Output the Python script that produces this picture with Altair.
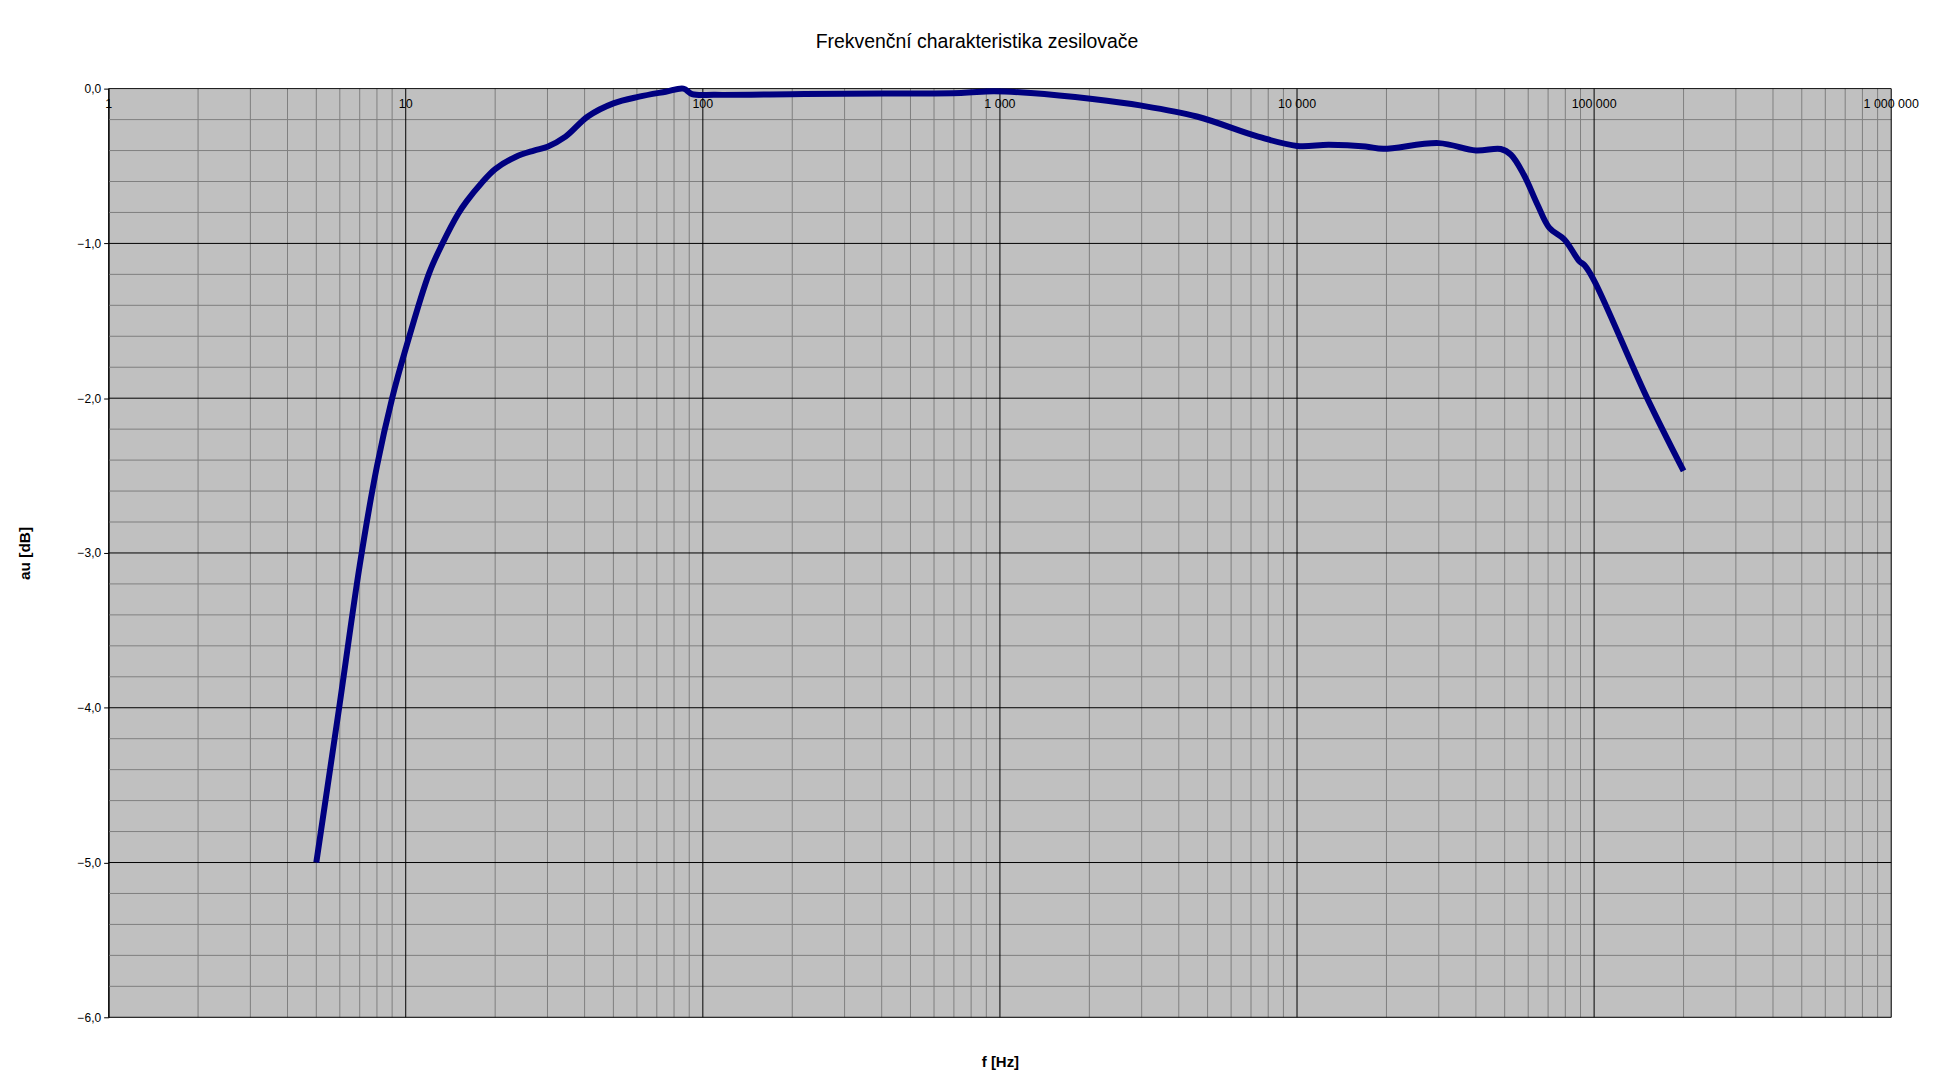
import altair as alt
import pandas as pd

# ---- data ----
freq_hz = [5, 6, 7, 8, 9, 10, 12, 13.3, 15, 16, 18, 20, 23.5, 27, 30, 34.5, 41, 50, 61, 75,
           86, 92, 110, 220, 410, 740, 950, 1270, 2050, 3000, 4600, 7400, 10000, 12800,
           17000, 19500, 30000, 40000, 48500, 52500, 58000, 64500, 70700, 79400, 89200,
           92700, 100000, 150000, 200000]
gain_db = [-5.0, -3.97, -3.08, -2.44, -2.0, -1.68, -1.19, -1.0, -0.81, -0.73, -0.61, -0.52,
           -0.44, -0.40, -0.375, -0.31, -0.18, -0.095, -0.052, -0.02, 0.0, -0.035, -0.04,
           -0.035, -0.032, -0.028, -0.017, -0.028, -0.067, -0.11, -0.18, -0.31, -0.37,
           -0.363, -0.374, -0.389, -0.352, -0.40, -0.39, -0.427, -0.556, -0.75, -0.90,
           -0.975, -1.115, -1.14, -1.24, -1.99, -2.47]

x_tick_values = [1, 10, 100, 1000, 10000, 100000, 1000000]
x_tick_labels = ["1", "10", "100", "1 000", "10 000", "100 000", "1 000 000"]
y_tick_values = [0, -1, -2, -3, -4, -5, -6]
x_minor_values = [m * d for d in [1, 10, 100, 1000, 10000, 100000] for m in range(2, 10)]
y_minor_values = [-(i * 0.2) for i in range(31) if i % 5 != 0]

title_text = "Frekvenční charakteristika zesilovače"
x_title = "f [Hz]"
y_title = "au [dB]"

W, H = 1789, 932
FONT = "Liberation Sans"

curve = pd.DataFrame({"f": freq_hz, "db": gain_db})
xt = pd.DataFrame({"f": x_tick_values, "label": x_tick_labels})
xm = pd.DataFrame({"f": x_minor_values})
ym = pd.DataFrame({"db": y_minor_values})
yt = pd.DataFrame({"db": y_tick_values})

xs = alt.Scale(type="log", domain=[1, 1000000], nice=False)
ys = alt.Scale(domain=[-6, 0], nice=False)

x_axis = alt.Axis(title=x_title, labels=False, ticks=False, domain=False, grid=False,
                  titleFont=FONT, titleFontSize=15, titleFontWeight="bold",
                  titleColor="#000000", titleY=44, titleBaseline="middle")
y_axis = alt.Axis(title=y_title, values=y_tick_values, grid=False,
                  labelExpr="replace(format(datum.value, '.1f'), '.', ',')",
                  labelFont=FONT, labelFontSize=12, labelColor="#000000",
                  labelPadding=3, tickSize=5, tickColor="#000000",
                  domainColor="#000000", domainWidth=1,
                  titleFont=FONT, titleFontSize=15.5, titleFontWeight="bold",
                  titleColor="#000000", titleAngle=270, titleX=-84, titleY=H / 2,
                  titleAlign="center", titleBaseline="middle")


def X(field):
    return alt.X(field, scale=xs, axis=x_axis)


def Y(field):
    return alt.Y(field, scale=ys, axis=y_axis)


minor_x = alt.Chart(xm).mark_rule(color="#808080", strokeWidth=1).encode(x=X("f:Q"))
minor_y = alt.Chart(ym).mark_rule(color="#808080", strokeWidth=1).encode(y=Y("db:Q"))
major_x = alt.Chart(xt).mark_rule(color="#000000", strokeWidth=1).encode(x=X("f:Q"))
major_y = alt.Chart(yt).mark_rule(color="#000000", strokeWidth=1).encode(y=Y("db:Q"))

line = alt.Chart(curve).mark_line(color="#000080", strokeWidth=6, interpolate="catmull-rom",
                                  clip=False).encode(
    x=X("f:Q"),
    y=Y("db:Q"),
    order=alt.Order("f:Q"),
)

labels = alt.Chart(xt).mark_text(font=FONT, fontSize=12.5, color="#000000", align="center",
                                 baseline="middle", dy=15).encode(
    x=X("f:Q"),
    y=alt.value(0),
    text="label:N",
)

chart = alt.layer(minor_x, minor_y, major_x, major_y, line, labels).properties(
    width=W, height=H,
    title=alt.TitleParams(title_text, font=FONT, fontSize=19.5, fontWeight="normal",
                          color="#000000", anchor="middle", dx=-23, offset=24),
    autosize=alt.AutoSizeParams(type="none"),
    padding={"left": 101, "top": 79, "right": 60, "bottom": 60},
).configure_view(fill="#C0C0C0", stroke="transparent")

chart.save("out.html", embed_options={"renderer": "svg", "actions": False})
